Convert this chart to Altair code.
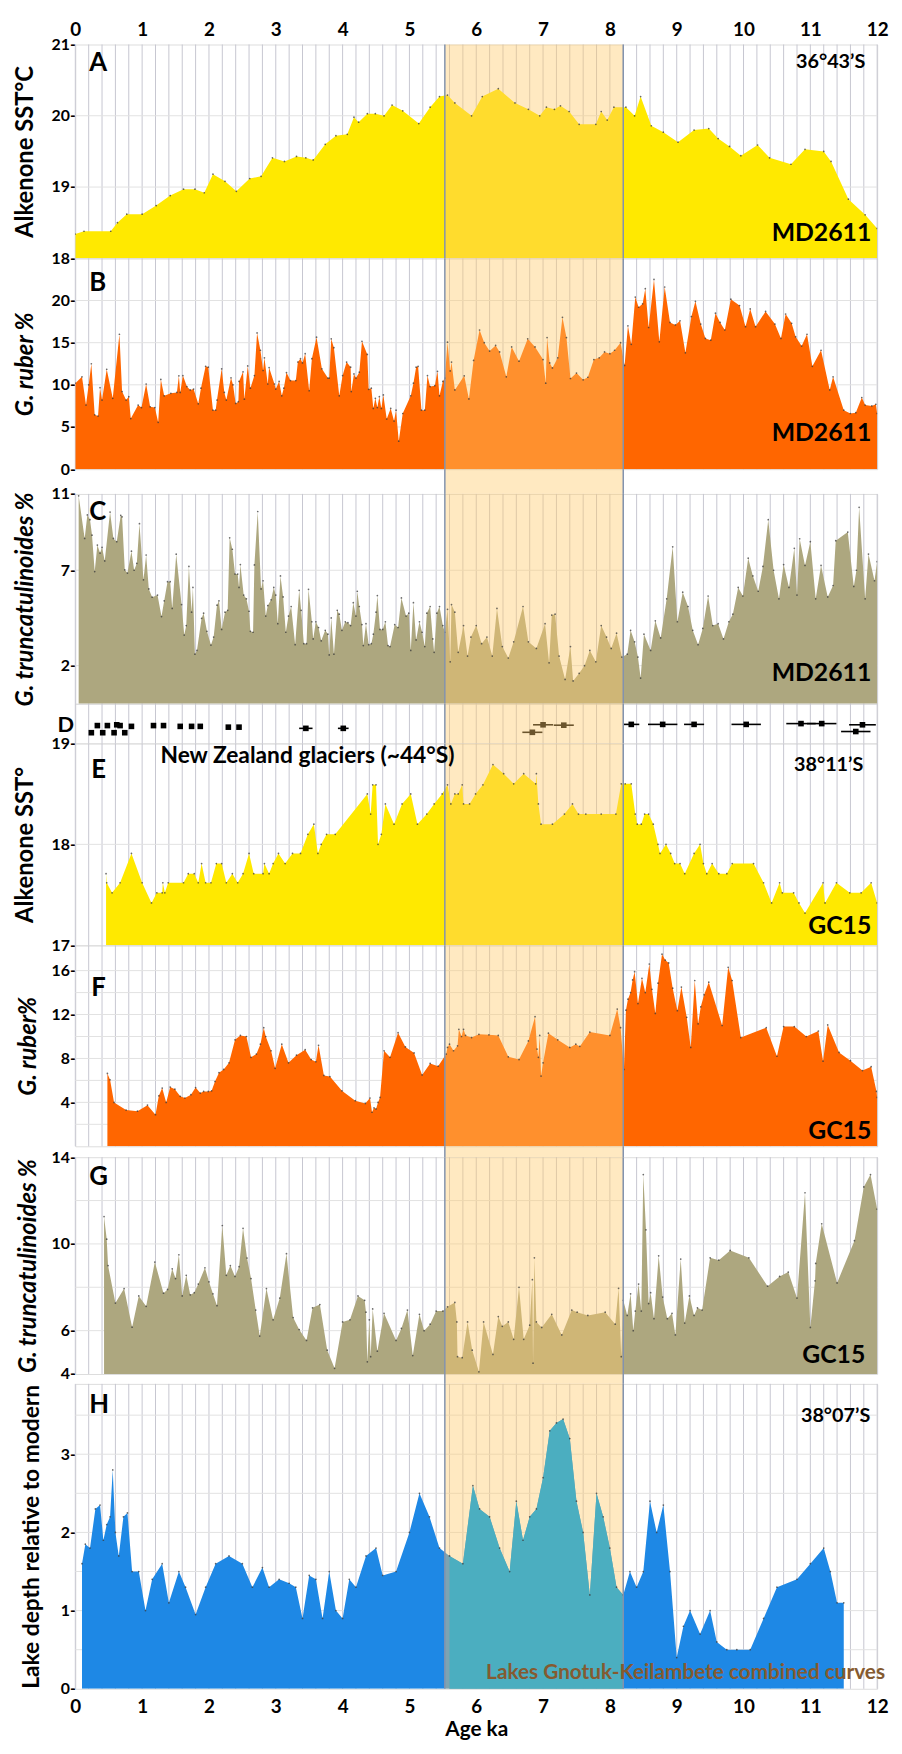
import altair as alt
import pandas as pd

FONT = "Lato"

# ---------------- data (age ka, value) ----------------
A_sst = [(0.0,18.34),(0.13,18.38),(0.53,18.38),(0.63,18.5),(0.77,18.62),(1.0,18.62),(1.21,18.74),(1.42,18.88),(1.62,18.97),(1.79,18.97),(1.93,18.92),(2.06,19.18),(2.24,19.08),(2.41,18.94),(2.61,19.12),(2.78,19.15),(2.95,19.41),(3.13,19.36),(3.31,19.43),(3.45,19.41),(3.56,19.38),(3.74,19.6),(3.9,19.72),(4.07,19.74),(4.17,19.98),(4.24,19.91),(4.37,20.03),(4.49,20.03),(4.62,20.0),(4.74,20.15),(4.9,20.07),(5.14,19.89),(5.31,20.12),(5.45,20.27),(5.57,20.29),(5.68,20.18),(5.93,20.0),(6.09,20.27),(6.33,20.38),(6.58,20.18),(6.78,20.09),(6.95,20.0),(7.05,20.12),(7.17,20.09),(7.26,20.14),(7.39,20.06),(7.54,19.88),(7.79,19.88),(7.87,20.06),(7.96,19.94),(8.06,20.12),(8.24,20.12),(8.37,20.0),(8.46,20.27),(8.62,19.86),(8.8,19.77),(9.02,19.63),(9.26,19.8),(9.48,19.82),(9.62,19.68),(9.79,19.57),(9.96,19.44),(10.21,19.59),(10.39,19.41),(10.71,19.32),(10.92,19.53),(11.2,19.5),(11.31,19.36),(11.57,18.83),(11.82,18.61),(12.0,18.42)]

B_ruber = [(0.0,10.2),(0.1,10.95),(0.16,7.6),(0.2,10.0),(0.24,12.5),(0.29,6.45),(0.34,6.3),(0.37,9.66),(0.4,8.2),(0.47,11.85),(0.56,8.4),(0.66,16.0),(0.7,9.2),(0.76,8.2),(0.8,8.6),(0.83,6.0),(0.94,7.6),(0.99,7.3),(1.06,10.1),(1.12,7.4),(1.19,7.3),(1.24,5.55),(1.28,10.64),(1.33,8.7),(1.43,9.0),(1.52,9.1),(1.55,11.07),(1.57,9.1),(1.61,11.1),(1.67,9.8),(1.72,9.4),(1.77,9.5),(1.84,7.75),(1.88,9.6),(1.95,12.2),(1.99,12.1),(2.06,7.0),(2.1,7.0),(2.12,8.2),(2.19,11.9),(2.23,9.1),(2.26,8.2),(2.33,10.83),(2.36,10.0),(2.4,7.8),(2.44,8.0),(2.45,10.4),(2.51,11.54),(2.53,8.3),(2.58,12.24),(2.62,9.6),(2.68,11.1),(2.72,16.16),(2.77,14.1),(2.81,11.7),(2.83,13.2),(2.88,10.1),(2.9,12.05),(2.98,10.1),(3.0,9.5),(3.05,10.4),(3.09,8.7),(3.12,9.6),(3.16,11.46),(3.22,10.5),(3.3,10.5),(3.33,12.71),(3.37,13.1),(3.4,12.6),(3.44,13.7),(3.5,9.3),(3.54,13.1),(3.61,15.65),(3.69,11.9),(3.78,10.8),(3.8,10.8),(3.83,15.45),(3.87,14.4),(3.95,8.7),(4.0,11.1),(4.06,12.7),(4.12,12.1),(4.13,9.2),(4.17,11.3),(4.2,10.8),(4.25,11.5),(4.29,15.17),(4.37,13.6),(4.39,9.47),(4.43,9.6),(4.46,7.2),(4.49,8.4),(4.52,7.3),(4.55,8.6),(4.58,7.2),(4.61,8.8),(4.66,5.95),(4.72,7.2),(4.77,5.7),(4.8,7.0),(4.84,3.32),(4.9,6.6),(5.02,8.7),(5.06,10.2),(5.1,12.1),(5.13,12.2),(5.18,7.0),(5.23,7.0),(5.27,11.1),(5.31,9.8),(5.38,9.9),(5.42,11.6),(5.45,8.7),(5.5,10.4),(5.53,10.8),(5.57,15.06),(5.61,11.65),(5.63,12.7),(5.68,9.4),(5.82,11.07),(5.89,8.33),(5.96,12.9),(6.05,16.5),(6.12,15.0),(6.2,14.0),(6.29,14.67),(6.35,13.9),(6.45,10.95),(6.53,14.5),(6.64,12.8),(6.77,15.45),(6.88,14.5),(7.0,13.0),(7.04,10.2),(7.06,15.6),(7.1,12.6),(7.14,12.0),(7.22,13.2),(7.29,18.0),(7.35,15.6),(7.41,10.75),(7.5,11.4),(7.6,10.6),(7.67,10.9),(7.76,13.0),(7.84,13.2),(7.92,13.9),(8.0,13.7),(8.07,14.1),(8.16,15.0),(8.22,12.3),(8.27,17.0),(8.32,14.8),(8.38,20.4),(8.43,19.2),(8.49,19.6),(8.53,21.4),(8.58,16.8),(8.66,22.5),(8.74,15.1),(8.82,21.6),(8.9,17.4),(8.98,17.1),(9.05,17.6),(9.13,13.8),(9.22,18.1),(9.28,19.9),(9.36,17.2),(9.43,15.5),(9.51,15.3),(9.58,18.5),(9.65,17.4),(9.72,16.5),(9.81,20.15),(9.94,19.4),(10.03,16.9),(10.1,19.0),(10.18,16.9),(10.33,18.7),(10.47,17.2),(10.56,15.5),(10.63,18.4),(10.72,17.3),(10.78,15.7),(10.87,14.6),(10.95,16.0),(11.03,12.2),(11.16,14.1),(11.29,9.4),(11.34,10.95),(11.5,7.0),(11.6,6.6),(11.68,6.7),(11.77,8.5),(11.82,7.6),(11.92,7.5),(11.98,7.7),(12.0,6.6)]

C_trunc = [(0.05,10.9),(0.14,8.67),(0.18,9.9),(0.22,9.65),(0.25,8.84),(0.29,6.93),(0.33,8.32),(0.37,7.9),(0.4,8.2),(0.44,7.49),(0.52,10.05),(0.57,8.67),(0.62,8.5),(0.68,9.88),(0.7,9.8),(0.74,7.02),(0.78,6.85),(0.84,8.0),(0.88,7.0),(0.92,7.36),(0.96,9.44),(1.02,6.5),(1.06,7.8),(1.1,6.02),(1.15,5.59),(1.23,5.7),(1.29,4.57),(1.33,5.4),(1.38,6.4),(1.42,6.4),(1.45,5.0),(1.51,7.84),(1.59,5.2),(1.63,3.6),(1.66,4.1),(1.7,7.2),(1.74,4.8),(1.76,6.1),(1.79,2.6),(1.82,2.8),(1.89,4.48),(1.92,4.75),(1.97,3.8),(2.03,3.08),(2.07,3.5),(2.12,5.17),(2.15,5.4),(2.19,3.9),(2.24,4.8),(2.28,4.9),(2.31,8.7),(2.35,8.1),(2.39,6.8),(2.43,6.8),(2.45,6.1),(2.47,7.3),(2.52,5.7),(2.56,5.5),(2.6,4.85),(2.62,3.8),(2.66,3.75),(2.68,7.28),(2.73,10.08),(2.78,6.02),(2.81,6.45),(2.85,4.6),(2.88,5.15),(2.93,5.45),(2.97,6.1),(3.0,5.7),(3.03,4.2),(3.07,6.7),(3.11,5.6),(3.15,3.75),(3.19,4.6),(3.23,5.1),(3.29,3.1),(3.35,5.95),(3.38,4.9),(3.42,3.15),(3.46,3.15),(3.49,6.0),(3.54,4.3),(3.56,3.4),(3.6,4.3),(3.64,4.0),(3.68,3.3),(3.74,3.85),(3.78,3.65),(3.8,2.56),(3.83,4.5),(3.87,2.6),(3.92,4.9),(3.95,4.7),(3.99,3.85),(4.04,4.3),(4.08,4.25),(4.12,4.1),(4.16,5.3),(4.2,4.6),(4.22,5.9),(4.25,5.1),(4.29,4.15),(4.31,3.05),(4.35,4.2),(4.39,3.1),(4.43,3.15),(4.46,3.65),(4.5,4.8),(4.52,5.67),(4.56,3.9),(4.6,3.9),(4.64,4.3),(4.68,3.05),(4.71,3.0),(4.78,4.15),(4.83,4.0),(4.88,5.55),(4.95,4.6),(4.99,4.75),(5.02,2.8),(5.06,5.3),(5.1,3.35),(5.15,4.3),(5.19,3.75),(5.23,3.0),(5.26,4.75),(5.31,5.1),(5.35,3.4),(5.37,2.7),(5.41,4.75),(5.45,5.1),(5.5,4.1),(5.53,3.75),(5.57,4.95),(5.61,2.2),(5.63,5.2),(5.68,4.8),(5.73,2.7),(5.81,4.1),(5.87,2.5),(5.92,3.5),(6.0,4.1),(6.08,3.15),(6.16,3.5),(6.24,2.5),(6.31,5.0),(6.39,3.0),(6.48,2.4),(6.56,3.25),(6.7,5.1),(6.78,3.25),(6.9,2.9),(7.03,4.2),(7.09,2.15),(7.13,4.65),(7.18,4.7),(7.24,2.5),(7.33,1.28),(7.41,3.0),(7.45,1.2),(7.54,1.6),(7.62,2.0),(7.7,2.8),(7.79,2.2),(7.87,4.1),(7.95,3.5),(8.02,2.9),(8.1,3.7),(8.18,2.45),(8.26,2.6),(8.31,3.85),(8.37,3.25),(8.42,2.45),(8.46,1.35),(8.51,3.65),(8.61,2.8),(8.68,4.35),(8.76,3.45),(8.85,5.5),(8.94,8.23),(9.01,4.3),(9.09,5.85),(9.17,5.1),(9.24,3.85),(9.32,3.1),(9.39,3.95),(9.47,5.65),(9.54,4.1),(9.62,4.2),(9.7,3.4),(9.78,4.3),(9.84,4.7),(9.92,6.1),(9.99,5.65),(10.07,7.63),(10.14,6.7),(10.22,5.9),(10.29,7.2),(10.37,9.65),(10.45,7.0),(10.53,5.5),(10.6,7.3),(10.68,6.1),(10.76,8.15),(10.8,5.7),(10.84,8.65),(10.92,7.25),(11.0,8.5),(11.08,5.5),(11.16,7.25),(11.26,5.6),(11.34,6.2),(11.38,8.55),(11.56,9.0),(11.65,6.15),(11.69,7.0),(11.73,10.3),(11.82,5.5),(11.87,7.85),(11.96,6.45),(12.0,7.45)]

# glacier moraine ages: (age, row level, half error)
D_glacier = [(0.24,0.27,0.03),(0.33,0.45,0.03),(0.41,0.27,0.03),(0.48,0.45,0.03),(0.58,0.27,0.03),(0.62,0.47,0.03),(0.67,0.45,0.03),(0.74,0.27,0.03),(0.84,0.43,0.03),(1.17,0.45,0.03),(1.32,0.45,0.03),(1.57,0.43,0.03),(1.74,0.43,0.03),(1.87,0.43,0.03),(2.29,0.41,0.03),(2.45,0.41,0.03),(3.45,0.38,0.1),(4.01,0.38,0.08),(6.84,0.28,0.15),(7.0,0.47,0.15),(7.31,0.46,0.15),(8.32,0.48,0.12),(8.79,0.48,0.22),(9.26,0.48,0.15),(10.04,0.48,0.22),(10.86,0.5,0.22),(11.17,0.5,0.22),(11.68,0.3,0.22),(11.78,0.47,0.2)]

E_sst = [(0.46,17.71),(0.47,17.62),(0.55,17.52),(0.67,17.62),(0.84,17.91),(1.0,17.62),(1.14,17.42),(1.22,17.52),(1.3,17.52),(1.31,17.62),(1.34,17.52),(1.39,17.62),(1.62,17.62),(1.69,17.71),(1.78,17.71),(1.84,17.62),(1.89,17.81),(1.95,17.62),(2.03,17.62),(2.11,17.81),(2.19,17.81),(2.26,17.62),(2.35,17.71),(2.43,17.62),(2.51,17.71),(2.6,17.91),(2.67,17.71),(2.81,17.71),(2.83,17.81),(2.9,17.71),(2.96,17.81),(3.04,17.91),(3.14,17.81),(3.25,17.91),(3.37,17.91),(3.48,18.1),(3.57,18.2),(3.63,17.91),(3.68,18.0),(3.76,18.1),(3.89,18.1),(4.37,18.5),(4.42,18.3),(4.45,18.59),(4.5,18.59),(4.53,18.0),(4.58,18.1),(4.64,18.4),(4.77,18.2),(4.89,18.4),(5.02,18.5),(5.12,18.2),(5.26,18.3),(5.37,18.4),(5.49,18.5),(5.57,18.59),(5.62,18.4),(5.68,18.5),(5.73,18.5),(5.79,18.59),(5.81,18.4),(5.9,18.4),(5.99,18.5),(6.1,18.59),(6.25,18.79),(6.41,18.7),(6.56,18.6),(6.71,18.7),(6.89,18.6),(6.9,18.7),(6.93,18.4),(6.97,18.2),(7.14,18.2),(7.32,18.3),(7.44,18.4),(7.53,18.3),(7.64,18.3),(7.87,18.3),(8.09,18.3),(8.17,18.6),(8.23,18.6),(8.32,18.6),(8.38,18.3),(8.41,18.2),(8.47,18.2),(8.52,18.3),(8.58,18.3),(8.65,18.2),(8.72,18.0),(8.75,17.91),(8.84,18.0),(8.91,17.91),(8.97,17.81),(9.05,17.81),(9.12,17.71),(9.26,17.91),(9.35,18.0),(9.4,17.81),(9.45,17.71),(9.53,17.81),(9.63,17.71),(9.75,17.71),(9.83,17.81),(10.15,17.81),(10.3,17.62),(10.42,17.42),(10.54,17.62),(10.58,17.52),(10.75,17.52),(10.83,17.42),(10.92,17.32),(11.19,17.62),(11.22,17.42),(11.39,17.62),(11.59,17.52),(11.76,17.52),(11.91,17.62),(12.0,17.42)]

F_ruber = [(0.48,6.64),(0.52,6.06),(0.58,4.0),(0.76,3.3),(0.93,3.2),(1.08,3.75),(1.2,2.88),(1.25,4.6),(1.3,5.3),(1.36,4.0),(1.42,5.4),(1.49,5.2),(1.57,4.55),(1.64,4.4),(1.73,4.7),(1.8,5.35),(1.87,4.85),(1.92,5.0),(1.99,5.0),(2.04,5.05),(2.09,5.9),(2.15,6.7),(2.22,7.0),(2.3,7.6),(2.39,9.7),(2.47,10.1),(2.56,10.0),(2.63,8.1),(2.71,8.4),(2.77,9.3),(2.82,10.8),(2.85,10.0),(2.93,8.7),(2.99,7.1),(3.09,9.3),(3.19,7.6),(3.31,8.3),(3.44,8.8),(3.53,7.9),(3.6,7.7),(3.64,9.2),(3.72,6.45),(3.81,6.35),(3.99,5.05),(4.19,4.15),(4.34,3.9),(4.41,4.4),(4.44,3.1),(4.47,3.5),(4.5,3.4),(4.53,4.0),(4.56,4.45),(4.62,8.7),(4.71,8.1),(4.83,10.35),(4.94,9.05),(5.07,8.5),(5.19,6.5),(5.31,7.55),(5.43,7.3),(5.55,8.4),(5.57,9.0),(5.6,9.3),(5.66,8.7),(5.72,9.15),(5.74,10.65),(5.78,10.0),(5.81,10.65),(5.84,10.1),(5.93,9.9),(6.04,10.2),(6.19,10.15),(6.33,10.1),(6.48,8.15),(6.64,7.9),(6.78,9.6),(6.88,11.8),(6.91,8.85),(6.93,8.1),(6.95,10.1),(6.97,6.4),(7.0,7.6),(7.08,10.3),(7.22,9.7),(7.4,9.0),(7.49,9.3),(7.55,9.1),(7.7,10.4),(8.0,10.1),(8.11,12.5),(8.16,10.8),(8.21,7.0),(8.24,12.4),(8.27,13.4),(8.31,14.0),(8.34,15.15),(8.37,15.9),(8.42,13.0),(8.48,15.3),(8.53,14.0),(8.59,16.6),(8.63,14.3),(8.68,12.1),(8.72,14.85),(8.78,17.5),(8.83,16.95),(8.88,16.7),(8.94,14.4),(9.01,12.35),(9.07,14.5),(9.15,11.75),(9.21,9.0),(9.27,15.1),(9.32,11.15),(9.36,12.7),(9.41,13.8),(9.48,14.95),(9.68,11.0),(9.77,16.3),(9.83,15.1),(9.96,9.9),(10.34,10.8),(10.5,8.2),(10.6,10.9),(10.76,10.9),(10.94,10.0),(11.12,10.5),(11.19,7.75),(11.26,11.05),(11.43,8.55),(11.6,7.8),(11.78,6.9),(11.91,7.25),(11.99,5.0),(12.0,4.45)]

G_trunc = [(0.43,11.26),(0.47,10.22),(0.49,9.0),(0.6,7.27),(0.73,7.94),(0.85,6.16),(0.95,7.6),(1.06,7.12),(1.19,9.16),(1.32,7.73),(1.38,7.9),(1.45,8.85),(1.5,8.4),(1.55,9.5),(1.6,7.6),(1.66,8.55),(1.72,7.65),(1.78,7.75),(1.84,8.15),(1.94,8.9),(2.0,8.25),(2.06,7.7),(2.12,7.15),(2.2,10.85),(2.26,8.55),(2.32,9.0),(2.39,8.5),(2.45,8.95),(2.51,10.72),(2.57,9.35),(2.63,8.4),(2.7,6.95),(2.76,5.75),(2.86,7.94),(2.96,6.5),(3.06,7.5),(3.16,9.55),(3.26,6.6),(3.35,6.05),(3.46,5.55),(3.55,7.05),(3.66,7.2),(3.77,5.1),(3.88,4.26),(4.0,6.4),(4.11,6.5),(4.23,7.6),(4.33,7.4),(4.35,6.85),(4.37,4.56),(4.4,6.5),(4.42,4.8),(4.45,7.0),(4.52,5.05),(4.62,6.8),(4.8,5.55),(4.88,6.1),(4.97,6.95),(5.05,4.85),(5.15,6.75),(5.22,6.0),(5.31,6.3),(5.4,6.9),(5.5,6.9),(5.57,7.1),(5.68,7.3),(5.71,6.4),(5.72,4.8),(5.79,4.75),(5.87,6.4),(5.94,5.1),(6.04,4.1),(6.11,6.4),(6.25,4.9),(6.33,6.65),(6.39,6.2),(6.48,6.4),(6.56,5.6),(6.64,8.0),(6.71,5.6),(6.8,6.25),(6.84,8.35),(6.85,4.5),(6.87,9.36),(6.9,6.4),(6.98,6.15),(7.13,6.75),(7.28,5.8),(7.43,6.95),(7.51,6.85),(7.67,6.7),(7.93,6.85),(8.08,6.3),(8.13,7.95),(8.17,4.8),(8.2,7.4),(8.26,6.7),(8.31,7.7),(8.35,6.0),(8.38,6.9),(8.43,8.15),(8.47,6.9),(8.5,13.2),(8.54,10.65),(8.58,7.25),(8.61,7.75),(8.66,6.55),(8.73,9.45),(8.79,7.55),(8.86,6.55),(8.93,6.8),(8.98,5.8),(9.06,9.3),(9.12,6.35),(9.19,7.6),(9.26,6.7),(9.31,7.05),(9.38,6.95),(9.5,9.36),(9.63,9.25),(9.8,9.7),(10.08,9.36),(10.36,8.05),(10.54,8.5),(10.67,8.7),(10.8,7.5),(10.92,12.36),(11.0,6.15),(11.07,8.3),(11.08,9.1),(11.17,10.93),(11.4,8.2),(11.66,10.15),(11.8,12.63),(11.9,13.2),(12.0,11.6)]

H_lake = [(0.1,1.6),(0.15,1.85),(0.22,1.8),(0.3,2.3),(0.37,2.35),(0.42,1.9),(0.47,2.1),(0.52,2.2),(0.56,2.8),(0.6,2.0),(0.65,1.7),(0.72,2.2),(0.78,2.25),(0.85,1.5),(0.95,1.5),(1.05,1.0),(1.15,1.4),(1.3,1.6),(1.4,1.1),(1.55,1.5),(1.65,1.3),(1.8,0.95),(1.95,1.3),(2.1,1.6),(2.3,1.7),(2.5,1.6),(2.65,1.3),(2.8,1.55),(2.9,1.3),(3.05,1.4),(3.2,1.35),(3.3,1.3),(3.4,0.9),(3.5,1.45),(3.6,1.4),(3.7,0.9),(3.8,1.5),(3.9,1.0),(4.0,0.9),(4.1,1.4),(4.2,1.3),(4.35,1.7),(4.5,1.8),(4.6,1.45),(4.8,1.5),(5.0,2.0),(5.15,2.5),(5.3,2.2),(5.45,1.8),(5.6,1.7),(5.8,1.6),(5.95,2.6),(6.05,2.3),(6.2,2.2),(6.35,1.8),(6.5,1.5),(6.6,2.4),(6.7,1.9),(6.8,2.2),(6.9,2.3),(7.0,2.7),(7.1,3.3),(7.2,3.4),(7.3,3.45),(7.4,3.2),(7.5,2.4),(7.6,2.0),(7.7,1.2),(7.8,2.5),(7.9,2.2),(8.0,1.8),(8.1,1.3),(8.2,1.2),(8.3,1.5),(8.4,1.3),(8.5,1.5),(8.6,2.4),(8.7,2.0),(8.8,2.35),(8.9,1.5),(9.0,0.4),(9.1,0.8),(9.2,1.0),(9.35,0.7),(9.5,1.0),(9.6,0.6),(9.75,0.5),(9.9,0.5),(10.1,0.5),(10.3,0.9),(10.5,1.3),(10.8,1.4),(11.0,1.6),(11.2,1.8),(11.3,1.5),(11.4,1.1),(11.5,1.1)]

BAND = [5.53, 8.2]           # highlighted interval, ka
X_TICKS = list(range(0, 13))

# ---------------- styling ----------------
W = 810
X_DOMAIN = [0, 12]
GRID_X = [round(i * 0.2, 1) for i in range(61)]
YELLOW = "#FFE900"
ORANGE = "#FF6600"
OLIVE = "#ADA77F"
BLUE = "#1E88E5"
TEAL = "#4BAEC0"
BAND_COLOR = "#FFCB6B"
BAND_OPACITY = 0.42
EDGE = "#8393AE"
VGRID = "#c6c6d0"
HGRID = "#e2e2e2"
TITLE_SIZE = 24

grid_df = pd.DataFrame({"g": GRID_X})
band_df = pd.DataFrame({"x0": [BAND[0]], "x1": [BAND[1]]})
edge_df = pd.DataFrame({"x": BAND})


def xscale():
    return alt.Scale(domain=X_DOMAIN, nice=False, zero=False)


def vgrid(h, kind="none"):
    common = dict(values=X_TICKS, labelExpr="format(datum.value, '.0f')", grid=False, ticks=False,
                  domain=False, title=None)
    lab = dict(labelFont=FONT, labelFontSize=19, labelFontWeight="bold", labelColor="black",
               labelFlush=False, labelOverlap=False)
    if kind == "top":
        axis = alt.Axis(orient="top", labelPadding=5, **lab, **common)
    elif kind == "bottom":
        common["title"] = "Age ka"
        axis = alt.Axis(orient="bottom", labelPadding=9, titleFont=FONT, titleFontSize=21,
                        titleFontWeight="bold", titleColor="black", titlePadding=2, **lab, **common)
    else:
        axis = None
    return alt.Chart(grid_df).mark_rule(color=VGRID, strokeWidth=1).encode(
        x=alt.X("g:Q", scale=xscale(), axis=axis), y=alt.value(0), y2=alt.value(h))


def hgrid(vals):
    return alt.Chart(pd.DataFrame({"hy": vals})).mark_rule(color=HGRID, strokeWidth=1).encode(
        y="hy:Q", x=alt.value(0), x2=alt.value(W))


def yaxis(title, italic, label_values, title_size=TITLE_SIZE, title_x=-50):
    return alt.Axis(values=label_values, labelExpr="format(datum.value, '.0f') + '-'",
                    labelFont=FONT, labelFontSize=16, labelFontWeight="bold", labelColor="black",
                    labelPadding=0, labelFlush=False, labelOverlap=False, labelBaseline="middle",
                    ticks=False, domain=False, grid=False,
                    title=title, titleFont=FONT, titleFontSize=title_size, titleFontWeight="bold",
                    titleFontStyle="italic" if italic else "normal", titleColor="black",
                    titleX=title_x, titleBaseline="middle")


def band_layers(h):
    rect = alt.Chart(band_df).mark_rect(color=BAND_COLOR, opacity=BAND_OPACITY).encode(
        x="x0:Q", x2="x1:Q", y=alt.value(0), y2=alt.value(h))
    edges = alt.Chart(edge_df).mark_rule(color=EDGE, strokeWidth=1.5).encode(
        x="x:Q", y=alt.value(0), y2=alt.value(h))
    return rect, edges


def label(text, x, y, size, align="left", color="black"):
    return alt.Chart(pd.DataFrame({"t": [text]})).mark_text(
        align=align, baseline="alphabetic", font=FONT, fontSize=size, fontWeight="bold", color=color
    ).encode(x=alt.value(x), y=alt.value(y), text="t:N")


def panel(pairs, color, ydomain, h, title, italic, lvals, gvals, texts, xkind="none",
          title_size=TITLE_SIZE, title_x=-50, inband_color=None):
    df = pd.DataFrame(pairs, columns=["age", "v"])
    ysc = alt.Scale(domain=ydomain, nice=False, zero=False)
    area = alt.Chart(df).mark_area(color=color, clip=True).encode(
        x="age:Q",
        y=alt.Y("v:Q", scale=ysc, axis=yaxis(title, italic, lvals, title_size, title_x)),
        y2=alt.datum(ydomain[0]),
    )
    dots = alt.Chart(df).mark_circle(size=3, color="#3a3a3a", opacity=0.75, clip=True).encode(
        x="age:Q", y="v:Q")
    rect, edges = band_layers(h)
    layers = [vgrid(h, xkind), hgrid(gvals), area, rect]
    if inband_color:
        layers.append(alt.Chart(df).transform_filter(
            (alt.datum.age >= BAND[0]) & (alt.datum.age <= BAND[1])
        ).mark_area(color=inband_color).encode(x="age:Q", y="v:Q", y2=alt.datum(ydomain[0])))
    layers += [dots, edges] + texts
    return alt.layer(*layers).properties(width=W, height=h)


def spacer(h):
    rect = alt.Chart(band_df).mark_rect(color=BAND_COLOR, opacity=BAND_OPACITY).encode(
        x=alt.X("x0:Q", scale=xscale(), axis=None),
        x2="x1:Q", y=alt.value(0), y2=alt.value(h))
    edges = alt.Chart(edge_df).mark_rule(color=EDGE, strokeWidth=1.5).encode(
        x="x:Q", y=alt.value(0), y2=alt.value(h))
    return alt.layer(rect, edges).properties(width=W, height=h,
                                             view=alt.ViewBackground(stroke="transparent"))


hA, hB, hC, hD, hE, hF, hG, hH = 216, 213, 212, 40, 204, 203, 219, 308

A = panel(A_sst, YELLOW, [18, 21], hA, "Alkenone SST°C", False, [18, 19, 20, 21], [19, 20],
          [label("A", 14, 27, 26), label("36°43’S", 798, 24, 20, "right"),
           label("MD2611", 804, 199, 25, "right")], xkind="top")
B = panel(B_ruber, ORANGE, [0, 25], hB, "G. ruber %", True, [0, 5, 10, 15, 20], [5, 10, 15, 20],
          [label("B", 14, 33, 26), label("MD2611", 804, 185, 25, "right")])
C = panel(C_trunc, OLIVE, [0, 11], hC, "G. truncatulinoides %", True, [2, 7, 11], [2, 7],
          [label("C", 14, 26, 26), label("MD2611", 804, 189, 25, "right")])

Ddf = pd.DataFrame(D_glacier, columns=["age", "level", "err"])
Ddf["lo"] = Ddf["age"] - Ddf["err"]
Ddf["hi"] = Ddf["age"] + Ddf["err"]
d_rules = alt.Chart(Ddf).mark_rule(color="black", strokeWidth=1.6).encode(
    x="lo:Q", x2="hi:Q",
    y=alt.Y("level:Q", scale=alt.Scale(domain=[0, 1], nice=False, zero=False), axis=None))
d_sq = alt.Chart(Ddf).mark_square(size=32, color="black", opacity=1).encode(x="age:Q", y="level:Q")
d_rect, d_edges = band_layers(hD)
D = alt.layer(vgrid(hD), d_rules, d_sq, d_rect, d_edges, label("D", -18, 28, 22)).properties(
    width=W, height=hD)

E = panel(E_sst, YELLOW, [17, 19], hE, "Alkenone SST°", False, [17, 18, 19], [18],
          [label("E", 16, 35, 26), label("New Zealand glaciers (~44°S)", 86, 20, 23),
           label("38°11’S", 796, 28, 20, "right"), label("GC15", 804, 193, 25, "right")])
F = panel(F_ruber, ORANGE, [0, 18.3], hF, "G. ruber%", True, [4, 8, 12, 16],
          [2, 4, 6, 8, 10, 12, 14, 16],
          [label("F", 16, 51, 26), label("GC15", 804, 196, 25, "right")], title_x=-47)
G = panel(G_trunc, OLIVE, [4, 14], hG, "G. truncatulinoides %", True, [4, 6, 10, 14],
          [6, 8, 10, 12],
          [label("G", 14, 28, 26), label("GC15", 798, 208, 25, "right")], title_x=-47)
H = panel(H_lake, BLUE, [0, 3.9], hH, "Lake depth relative to modern", False, [0, 1, 2, 3],
          [0.5, 1, 1.5, 2, 2.5, 3, 3.5],
          [label("H", 14, 29, 26), label("38°07’S", 803, 39, 20, "right"),
           label("Lakes Gnotuk-Keilambete combined curves", 818, hH - 10, 21, "right", "#855A30")],
          xkind="bottom", title_size=23, title_x=-44, inband_color=TEAL)

chart = alt.vconcat(A, B, spacer(25), C, D, E, F, spacer(11), G, spacer(10), H,
                    spacing=0, bounds="flush").properties(
    padding={"left": 5, "top": 3, "right": 5, "bottom": 5}
).configure_view(stroke="#9c9c9c", strokeWidth=1).configure(font=FONT)

chart.save("out.html", embed_options={"renderer": "svg", "actions": False})
